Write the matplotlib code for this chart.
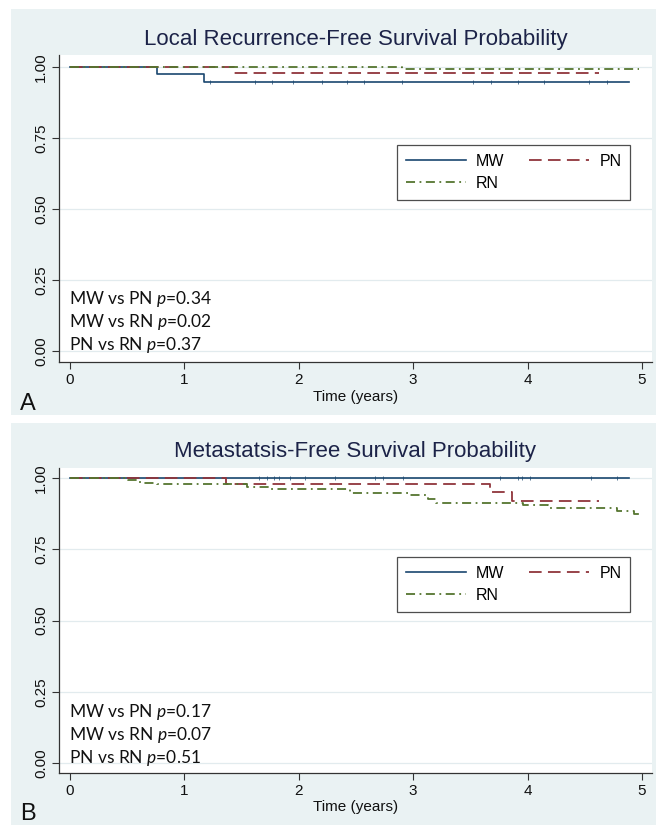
import matplotlib
matplotlib.use("Agg")
import matplotlib.pyplot as plt
from matplotlib.patches import Rectangle

plt.rcParams['font.family'] = ['Liberation Sans', 'DejaVu Sans']
plt.rcParams['mathtext.fontset'] = 'custom'
plt.rcParams['mathtext.rm'] = 'Lato'
plt.rcParams['mathtext.it'] = 'Lato:italic'

# ---------------- data ----------------
titles = ["Local Recurrence-Free Survival Probability",
          "Metastatsis-Free Survival Probability"]
panel_letters = ["A", "B"]
x_ticks = [0, 1, 2, 3, 4, 5]
y_ticks = [0.00, 0.25, 0.50, 0.75, 1.00]
y_tick_labels = ["0.00", "0.25", "0.50", "0.75", "1.00"]
series_names = ["MW", "PN", "RN"]

# Panel A (local recurrence-free)
a_mw_t = [0, 0.76, 1.17, 4.89]
a_mw_s = [1.0, 0.974, 0.946, 0.946]
a_pn_t = [0, 1.43, 4.62]
a_pn_s = [1.0, 0.980, 0.980]
a_rn_t = [0, 2.90, 4.97]
a_rn_s = [1.0, 0.992, 0.992]
a_mw_censor = [1.22, 1.62, 1.77, 1.95, 2.20, 2.42, 2.57, 2.90, 3.52, 3.68, 3.92, 4.14, 4.54, 4.69]
a_pvalues = ["MW vs PN $p$=0.34", "MW vs RN $p$=0.02", "PN vs RN $p$=0.37"]

# Panel B (metastasis-free)
b_mw_t = [0, 4.89]
b_mw_s = [1.0, 1.0]
b_pn_t = [0, 1.36, 3.67, 3.86, 4.62]
b_pn_s = [1.0, 0.980, 0.950, 0.920, 0.920]
b_rn_t = [0, 0.51, 0.61, 0.76, 1.55, 1.75, 2.45, 2.96, 3.13, 3.20, 3.96, 4.18, 4.78, 4.93, 4.97]
b_rn_s = [1.0, 0.993, 0.984, 0.979, 0.968, 0.960, 0.948, 0.940, 0.925, 0.912, 0.905, 0.896, 0.884, 0.874, 0.874]
b_mw_censor = [1.65, 1.72, 1.78, 1.83, 1.92, 2.05, 2.32, 2.67, 2.74, 2.91, 3.76, 3.92, 3.95, 4.02, 4.55, 4.78]
b_pvalues = ["MW vs PN $p$=0.17", "MW vs RN $p$=0.07", "PN vs RN $p$=0.51"]

# ---------------- style ----------------
W, H = 656, 825
BG = '#eaf2f3'
GRID = '#e2ebee'
C_MW = '#1a476f'
C_PN = '#90353b'
C_RN = '#55752f'
TITLE_C = '#1c2348'

fig = plt.figure(figsize=(W / 100, H / 100), dpi=100)
fig.patch.set_facecolor('white')


def fx(x):
    return x / W


def fy(y):
    return 1 - y / H


# panel backgrounds
for top, bot in [(9, 415), (423, 825)]:
    fig.add_artist(Rectangle((fx(11), fy(bot)), fx(W - 11), (bot - top) / H,
                             transform=fig.transFigure, facecolor=BG,
                             edgecolor='none', zorder=0))

panels = [
    dict(top=55, bot=362, y1=67, y0=351, title_y=40, tlab_y=397, let_y=404,
         leg_top=145, p_y=[299, 322, 345],
         mw=(a_mw_t, a_mw_s), pn=(a_pn_t, a_pn_s), rn=(a_rn_t, a_rn_s),
         cens=a_mw_censor, pv=a_pvalues),
    dict(top=468, bot=773, y1=478, y0=763, title_y=452, tlab_y=807, let_y=814,
         leg_top=557, p_y=[712, 735, 758],
         mw=(b_mw_t, b_mw_s), pn=(b_pn_t, b_pn_s), rn=(b_rn_t, b_rn_s),
         cens=b_mw_censor, pv=b_pvalues),
]

X_LEFT, X_RIGHT, X0, X5 = 59, 652, 70, 642
ppy = (X5 - X0) / 5.0

for i, p in enumerate(panels):
    ax = fig.add_axes([fx(X_LEFT), fy(p['bot']), fx(X_RIGHT - X_LEFT),
                       (p['bot'] - p['top']) / H])
    ax.set_facecolor('white')
    ppu = p['y0'] - p['y1']
    ax.set_ylim(-(p['bot'] - p['y0']) / ppu, 1 + (p['y1'] - p['top']) / ppu)
    ax.set_xlim(-(X0 - X_LEFT) / ppy, 5 + (X_RIGHT - X5) / ppy)
    for yv in y_ticks:
        ax.axhline(yv, color=GRID, lw=0.9, zorder=1)

    ax.step(p['mw'][0], p['mw'][1], where='post', color=C_MW, lw=1.2,
            zorder=3, label=series_names[0])
    ax.step(p['pn'][0], p['pn'][1], where='post', color=C_PN, lw=1.3,
            linestyle=(0, (7, 3.5)), zorder=4, label=series_names[1])
    ax.step(p['rn'][0], p['rn'][1], where='post', color=C_RN, lw=1.3,
            linestyle=(0, (5, 2.5, 1, 2.5)), zorder=5, label=series_names[2])
    ax.plot(p['cens'], [p['mw'][1][-1]] * len(p['cens']), linestyle='none',
            marker='|', markersize=2.5, markeredgewidth=0.5, color=C_MW, zorder=3)

    for s in ['top', 'right']:
        ax.spines[s].set_visible(False)
    for s in ['left', 'bottom']:
        ax.spines[s].set_color('#333333')
        ax.spines[s].set_linewidth(0.9)
    ax.set_xticks(x_ticks)
    ax.set_xticklabels([str(v) for v in x_ticks], fontsize=11)
    ax.set_yticks(y_ticks)
    ax.set_yticklabels(y_tick_labels, fontsize=11, rotation=90, va='center')
    ax.tick_params(axis='both', direction='out', length=5, width=0.8,
                   color='#333333', labelcolor='#111111', pad=3)

    # legend
    h = ax.get_legend_handles_labels()[0]
    hmap = dict(zip(series_names, h))
    leg = fig.legend([hmap['MW'], hmap['RN'], hmap['PN']], ['MW', 'RN', 'PN'],
                     ncol=2, loc='upper left',
                     bbox_to_anchor=(fx(397), fy(p['leg_top'])),
                     frameon=True, fancybox=False, fontsize=11.5,
                     handlelength=3.75, columnspacing=1.55, handletextpad=0.65,
                     labelspacing=0.45, borderpad=0.55, borderaxespad=0)
    leg.get_frame().set_edgecolor('#222222')
    leg.get_frame().set_linewidth(0.9)

    # p values
    for yy, txt in zip(p['p_y'], p['pv']):
        fig.text(fx(69), fy(yy), txt, fontsize=12.5, family='Lato',
                 va='center', ha='left', color='#111111')

    fig.text(fx((X_LEFT + X_RIGHT) / 2), fy(p['title_y']), titles[i],
             fontsize=16, color=TITLE_C, ha='center', va='center')
    fig.text(fx((X_LEFT + X_RIGHT) / 2), fy(p['tlab_y']), "Time (years)",
             fontsize=11, color='#111111', ha='center', va='center')
    fig.text(fx(28), fy(p['let_y']), panel_letters[i], fontsize=17,
             color='#111111', ha='center', va='center')

fig.savefig('out.png', dpi=100, facecolor='white')
